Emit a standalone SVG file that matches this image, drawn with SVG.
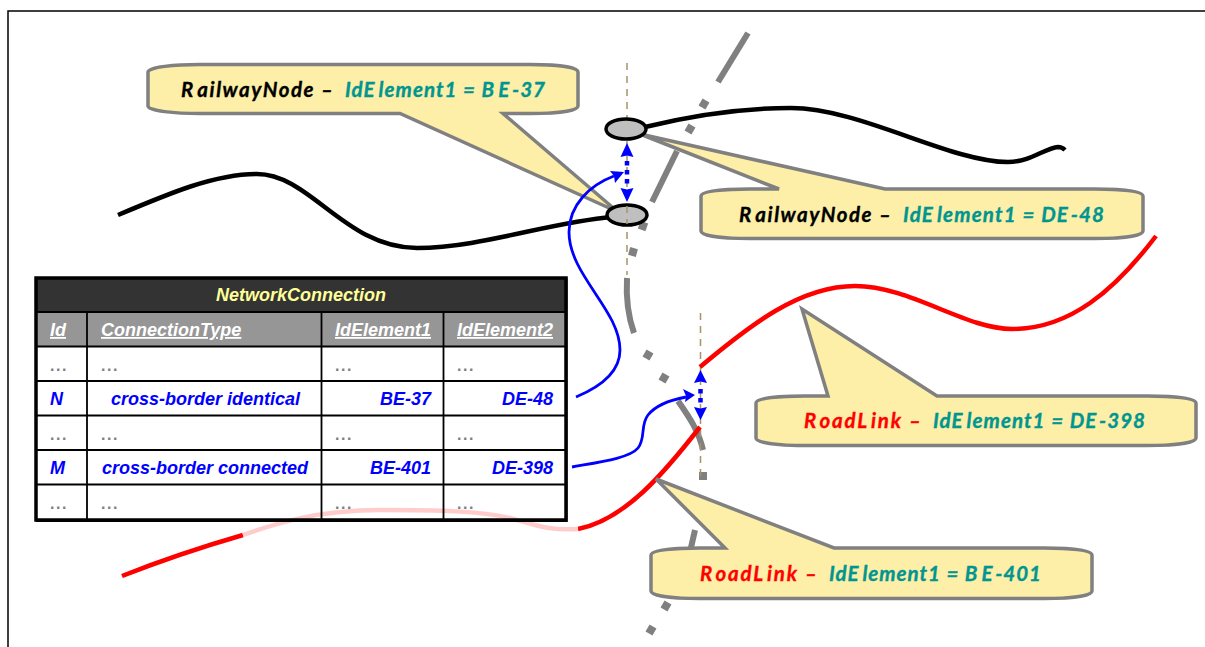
<svg xmlns="http://www.w3.org/2000/svg" width="1205" height="647" viewBox="0 0 1205 647">
<style>
.tr{fill:none;stroke:#808080;stroke-width:6}
.dot{fill:#808080}
.bd{fill:none;stroke:#a39568;stroke-width:1.5;stroke-dasharray:7 6}
.bl{fill:none;stroke:#000;stroke-width:4.5}
.rd{fill:none;stroke:#f00;stroke-width:4.5}
.bu{fill:none;stroke:#00f;stroke-width:2.8}
.dd{fill:none;stroke:#00f;stroke-width:4.500;stroke-dasharray:4.500 4.500}
.ah{fill:#00f}
.co{fill:#fdeea8;stroke:#808080;stroke-width:3.500;stroke-linejoin:miter}
.ct{font-family:"Lato","Open Sans",sans-serif;font-weight:700;font-style:italic;font-size:20.500px;stroke-width:.35}
.teal{fill:#009590;stroke:#009590}
.blk{fill:#000;stroke:#000}
.red{fill:#f00;stroke:#f00}
.th{font-family:"Liberation Sans",Arial,sans-serif;font-style:italic;font-weight:700;font-size:18px;fill:#fff;text-decoration:underline}
.td{font-family:"Liberation Sans",Arial,sans-serif;font-style:italic;font-weight:700;font-size:18px;fill:#00f}
.dt{font-family:"Liberation Sans",Arial,sans-serif;font-weight:700;font-size:16px;letter-spacing:1.500px;fill:#808080}
.grid{stroke:#000;stroke-width:2;fill:none}
.col{stroke:#000;stroke-width:1.8;fill:none}
</style>
<g id="frame"><path d="M8,647V11H1205" fill="none" stroke="#000" stroke-width="1.500"/></g>
<g id="connectors">
<g id="border-track">
<path class="tr" d="M748,33L718,82"/>
<rect class="dot" x="-4" y="-4" width="8" height="8" transform="translate(704,104) rotate(30)"/>
<rect class="dot" x="-4" y="-4" width="8" height="8" transform="translate(690,129) rotate(30)"/>
<path class="tr" d="M677,151L652,202"/>
<rect class="dot" x="-4" y="-4" width="8" height="8" transform="translate(643,226) rotate(20)"/>
<rect class="dot" x="-4" y="-4" width="8" height="8" transform="translate(633,252) rotate(15)"/>
<path class="tr" d="M627,278C626,296 628,316 634,333"/>
<rect class="dot" x="-4" y="-4" width="8" height="8" transform="translate(648,355) rotate(30)"/>
<rect class="dot" x="-4" y="-4" width="8" height="8" transform="translate(664,378) rotate(30)"/>
<path class="tr" d="M678,401C690,418 699,432 703,450"/>
<rect class="dot" x="-4" y="-4" width="8" height="8" transform="translate(703,476)"/>
<path class="tr" d="M695,530L690,552"/>
<rect class="dot" x="-4" y="-4" width="8" height="8" transform="translate(666,606) rotate(30)"/>
<rect class="dot" x="-4" y="-4" width="8" height="8" transform="translate(651,630) rotate(30)"/>
</g>
<path class="bd" d="M627,63V275"/>
<path class="bd" d="M700.500,313V480"/>
<path class="bl" d="M118,215C170,193 215,174 257,174C310,174 345,248 417,248C480,248 550,222 612,217"/>
<path class="bl" d="M645,127C690,116 740,108 791,108C860,108 950,162 1008,162C1030,162 1045,148 1058,147C1062,147 1064,149 1065,150"/>
<path class="rd" d="M700,367C750,325 800,286 855,286C910,286 965,329 1012,329C1070,329 1115,290 1156,236"/>
<path class="rd" d="M122,576C165,559 205,546 243,535"/>
<path class="rd" d="M578,529C625,520 665,472 700,427"/>
</g>
<g id="callout-railway-be37">
<path class="co" d="M148,72C148,67 175,64.500 200,64.500H530C555,64.500 578,67 578,72V106C578,111 555,113.500 530,113.500H503L618,212L400,113.500H200C175,113.500 148,111 148,106Z"/>
<text class="ct blk" x="181" y="97" textLength="152"><tspan>R</tspan><tspan dx="3">ailwayNode –</tspan></text>
<text class="ct teal" x="345" y="97" textLength="200">IdE<tspan dx="3">lement1 = B</tspan><tspan dx="3">E</tspan><tspan dx="2">-37</tspan></text>
</g>
<g id="callout-railway-de48">
<path class="co" d="M701,196C701,191 725,189 750,189H779L640,134L885,189H1095C1120,189 1143,191 1143,196V231C1143,236 1120,238.500 1095,238.500H750C725,238.500 701,236 701,231Z"/>
<text class="ct blk" x="739" y="222" textLength="152"><tspan>R</tspan><tspan dx="3">ailwayNode –</tspan></text>
<text class="ct teal" x="903" y="222" textLength="201">IdE<tspan dx="3">lement1 = DE</tspan><tspan dx="2">-48</tspan></text>
</g>
<g id="callout-road-de398">
<path class="co" d="M756,403C756,398 780,396 805,396H828L802,309L937,396H1147C1172,396 1196,398 1196,403V438C1196,443 1172,445.500 1147,445.500H805C780,445.500 756,443 756,438Z"/>
<text class="ct red" x="804" y="428" textLength="117"><tspan>R</tspan><tspan dx="2">oadL</tspan><tspan dx="2">ink –</tspan></text>
<text class="ct teal" x="933" y="428" textLength="212">IdE<tspan dx="3">lement1 = DE</tspan><tspan dx="2">-398</tspan></text>
</g>
<g id="callout-road-be401">
<path class="co" d="M651,555C651,550 675,548 700,548H725L656,479L834,548H1044C1069,548 1092,550 1092,555V591C1092,596 1069,598.500 1044,598.500H700C675,598.500 651,596 651,591Z"/>
<text class="ct red" x="700" y="581" textLength="117"><tspan>R</tspan><tspan dx="2">oadL</tspan><tspan dx="2">ink –</tspan></text>
<text class="ct teal" x="829" y="581" textLength="212">IdE<tspan dx="3">lement1 = B</tspan><tspan dx="3">E</tspan><tspan dx="2">-401</tspan></text>
</g>
<g id="node-be37"><ellipse cx="627" cy="215" rx="20" ry="10" fill="#bfbfbf" stroke="#000" stroke-width="3.500"/></g>
<g id="node-de48"><ellipse cx="626" cy="129" rx="20" ry="10" fill="#bfbfbf" stroke="#000" stroke-width="3.500"/></g>
<path class="bd" d="M627,206V224"/>
<g id="links">
<path class="dd" d="M627,161V186"/>
<path class="ah" d="M627,143L633.500,157L627,155.500L620.500,157Z"/>
<path class="ah" d="M627,202L633.500,188L627,189.500L620.500,188Z"/>
<path class="dd" d="M700.500,389V405"/>
<path class="ah" d="M700.500,370L707,383L700.500,381.500L694,383Z"/>
<path class="ah" d="M700.500,420L707,407L700.500,408.500L694,407Z"/>
<path class="bu" d="M576,397C600,387 620,372 620,350C620,310 569,275 569,232C569,205 590,185 614,176"/>
<path class="ah" d="M624,172L610,171L614,176L615,183Z"/>
<path class="bu" d="M572,467C600,462 630,458 638,448C646,438 640,425 648,415C656,405 670,400 686,397"/>
<path class="ah" d="M695,395L683,389L686,396L685,402Z"/>
</g>
<g id="network-connection-table">
<rect x="36" y="278" width="530" height="242" fill="#fff"/>
<rect x="36" y="278" width="530" height="34" fill="#333"/>
<rect x="36" y="312" width="530" height="35" fill="#969696"/>
<path d="M243,535C280,522 320,510 380,510C440,510 480,511 510,518C535,525 550,531 578,529" fill="none" stroke="#ffcccc" stroke-width="4.500"/>
<path class="grid" d="M36,312H566M36,346.500H566M36,381H566M36,415.500H566M36,450H566M36,484.500H566"/>
<path class="col" d="M87,312V520M321.500,312V520M443.500,312V520"/>
<rect x="36" y="278" width="530" height="242" fill="none" stroke="#000" stroke-width="3.500"/>
<path d="M566.500,278V521H36" fill="none" stroke="#000" stroke-width="2"/>
<text x="301" y="301" text-anchor="middle" style="font-family:'Liberation Sans',Arial,sans-serif;font-style:italic;font-size:18px;font-weight:700;fill:#ffff99">NetworkConnection</text>
<text class="th" x="50" y="336">Id</text>
<text class="th" x="101" y="336">ConnectionType</text>
<text class="th" x="335" y="336">IdElement1</text>
<text class="th" x="457" y="336">IdElement2</text>
<text class="dt" x="50" y="371">...</text><text class="dt" x="101" y="371">...</text><text class="dt" x="335" y="371">...</text><text class="dt" x="457" y="371">...</text>
<text class="td" x="50" y="405">N</text><text class="td" x="111" y="405">cross-border identical</text><text class="td" x="431" y="405" text-anchor="end">BE-37</text><text class="td" x="553" y="405" text-anchor="end">DE-48</text>
<text class="dt" x="50" y="440">...</text><text class="dt" x="101" y="440">...</text><text class="dt" x="335" y="440">...</text><text class="dt" x="457" y="440">...</text>
<text class="td" x="50" y="474">M</text><text class="td" x="102" y="474">cross-border connected</text><text class="td" x="431" y="474" text-anchor="end">BE-401</text><text class="td" x="553" y="474" text-anchor="end">DE-398</text>
<text class="dt" x="50" y="509">...</text><text class="dt" x="101" y="509">...</text><text class="dt" x="335" y="509">...</text><text class="dt" x="457" y="509">...</text>
</g>
</svg>
